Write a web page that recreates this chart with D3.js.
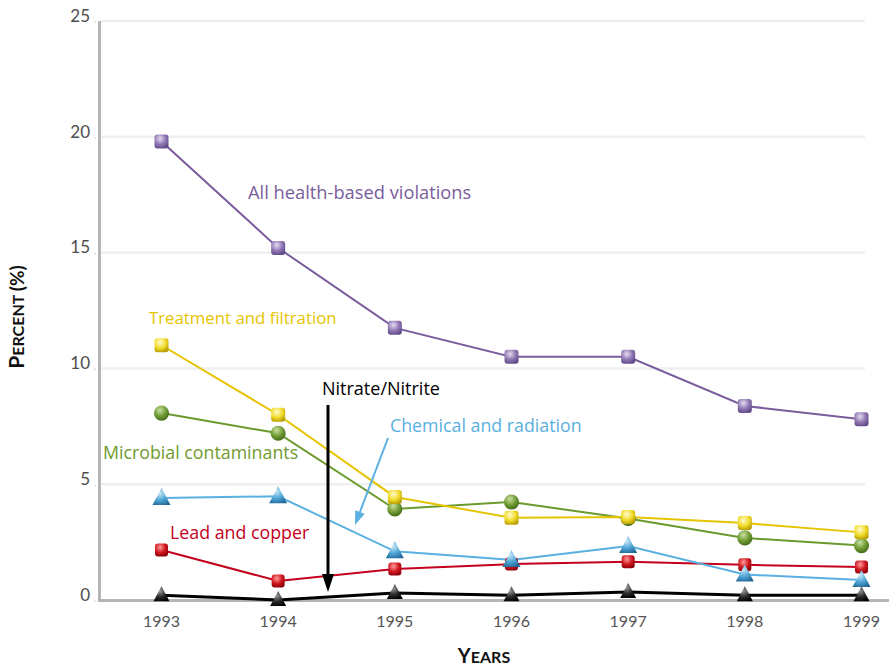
<!DOCTYPE html>
<html><head><meta charset="utf-8">
<script src="https://cdn.jsdelivr.net/npm/d3@7"></script>
<style>body{margin:0;background:#fff}svg{display:block}text{font-family:Lato,"Open Sans",sans-serif}</style>
</head><body><svg id="c" width="889" height="670"></svg>
<script>
const years = ["1993","1994","1995","1996","1997","1998","1999"];
const yTicks = [0,5,10,15,20,25];
const allViolations = [19.8,15.2,11.75,10.5,10.5,8.38,7.8];
const treatment = [11.0,8.0,4.45,3.55,3.58,3.32,2.92];
const microbial = [8.07,7.2,3.93,4.23,3.52,2.68,2.35];
const chemical = [4.4,4.48,2.1,1.73,2.33,1.1,0.86];
const lead = [2.16,0.82,1.34,1.55,1.65,1.52,1.42];
const nitrate = [0.2,0.0,0.3,0.2,0.35,0.2,0.2];

const svg = d3.select("#c");
const x = d3.scalePoint().domain(years).range([161.5,861.5]);
const y = d3.scaleLinear().domain([0,25]).range([600,21]);

const defs = svg.append("defs");
function grad(id, light, mid, dark){
  const g = defs.append("radialGradient").attr("id",id).attr("cx","40%").attr("cy","30%").attr("r","75%");
  g.append("stop").attr("offset","0%").attr("stop-color",light);
  g.append("stop").attr("offset","55%").attr("stop-color",mid);
  g.append("stop").attr("offset","100%").attr("stop-color",dark);
}
grad("gP","#e4dcef","#8f76b3","#5e4785");
grad("gY","#fffbd0","#f2dc2a","#b49a00");
grad("gG","#c9e0a0","#6f9a33","#3f6416");
grad("gB","#cde9f8","#4ea6d6","#24699a");
grad("gR","#ff9a9a","#d0161f","#8a000a");
grad("gK","#9a9a9a","#2a2a2a","#000");

// grid
svg.append("g").selectAll("line").data(yTicks.filter(d=>d>0)).join("line")
  .attr("x1",101).attr("x2",865).attr("y1",d=>y(d)).attr("y2",d=>y(d))
  .attr("stroke","#efefef").attr("stroke-width",2.5);

// axes
svg.append("line").attr("x1",99.5).attr("x2",99.5).attr("y1",21).attr("y2",601).attr("stroke","#b5b5b5").attr("stroke-width",3);
svg.append("line").attr("x1",98).attr("x2",889).attr("y1",600.5).attr("y2",600.5).attr("stroke","#b5b5b5").attr("stroke-width",3);

// y tick labels
svg.append("g").selectAll("text").data(yTicks).join("text")
  .attr("x",90).attr("y",d=>y(d)).attr("dy","0.05em").attr("text-anchor","end")
  .attr("font-size",17).attr("fill","#4d4d4d").text(d=>d);
svg.append("g").selectAll("circle").data(yTicks).join("circle")
  .attr("cx",95).attr("cy",d=>y(d)+1).attr("r",0.8).attr("fill","#ccc");
// x tick labels
svg.append("g").selectAll("text").data(years).join("text")
  .attr("x",d=>x(d)).attr("y",627).attr("text-anchor","middle")
  .attr("font-size",16).attr("fill","#555").text(d=>d);

// axis titles
const yt = svg.append("text").attr("transform","translate(24,317) rotate(-90)").attr("text-anchor","middle")
  .attr("font-weight","bold").attr("fill","#111");
yt.append("tspan").attr("font-size",21).text("P");
yt.append("tspan").attr("font-size",16).text("ERCENT ");
yt.append("tspan").attr("font-size",19).text("(%)");
const xt = svg.append("text").attr("x",484).attr("y",663).attr("text-anchor","middle").attr("font-weight","bold").attr("fill","#111");
xt.append("tspan").attr("font-size",20).text("Y");
xt.append("tspan").attr("font-size",16).text("EARS");

const series = [
  {vals:nitrate, color:"#000", w:3, shape:"tri", g:"gK", s:14},
  {vals:lead, color:"#c4001c", w:2, shape:"sq", g:"gR", s:13},
  {vals:chemical, color:"#5ab0e0", w:2, shape:"tri", g:"gB", s:16},
  {vals:microbial, color:"#6a9a2c", w:2, shape:"dia", g:"gG", s:15},
  {vals:treatment, color:"#e6c400", w:2, shape:"sq", g:"gY", s:14},
  {vals:allViolations, color:"#7a5c9c", w:2, shape:"sq", g:"gP", s:14}
];
const line = d3.line().x((d,i)=>x(years[i])).y(d=>y(d));
series.forEach(s=>{
  svg.append("path").attr("d",line(s.vals)).attr("fill","none").attr("stroke",s.color).attr("stroke-width",s.w);
});
series.forEach(s=>{
  const g = svg.append("g");
  s.vals.forEach((v,i)=>{
    const cx = x(years[i]), cy = y(v), h = s.s/2;
    if(s.shape==="sq"){
      g.append("rect").attr("x",cx-h).attr("y",cy-h).attr("width",s.s).attr("height",s.s).attr("rx",3)
        .attr("fill",`url(#${s.g})`);
    } else if(s.shape==="tri"){
      g.append("path").attr("d",`M${cx},${cy-h-2}L${cx+h+1},${cy+h-1}L${cx-h-1},${cy+h-1}Z`)
        .attr("fill",`url(#${s.g})`).attr("stroke-linejoin","round");
    } else {
      g.append("path").attr("d",d3.symbol(d3.symbolCircle, s.s*s.s*0.8)()).attr("transform",`translate(${cx},${cy})`)
        .attr("fill",`url(#${s.g})`);
    }
  });
});

// labels
const labels = [
  {t:"All health-based violations", x:248, y:199, c:"#7a5c9c", fs:18.3},
  {t:"Treatment and filtration", x:149, y:324, c:"#e6c400", fs:16.8},
  {t:"Microbial contaminants", x:103, y:459, c:"#6f9a30", fs:17.8},
  {t:"Lead and copper", x:170, y:539, c:"#c4001c", fs:17.8},
  {t:"Nitrate/Nitrite", x:322, y:395, c:"#000", fs:18},
  {t:"Chemical and radiation", x:390, y:432, c:"#5ab0e0", fs:17.8}
];
svg.append("g").selectAll("text").data(labels).join("text")
  .attr("x",d=>d.x).attr("y",d=>d.y).attr("fill",d=>d.c).attr("font-size",d=>d.fs)
  .style("font-family","'Open Sans',sans-serif").text(d=>d.t);

// arrows
function arrow(x1,y1,x2,y2,color,w,hl,hw){
  const a = Math.atan2(y2-y1,x2-x1);
  const bx = x2 - hl*Math.cos(a), by = y2 - hl*Math.sin(a);
  svg.append("line").attr("x1",x1).attr("y1",y1).attr("x2",bx).attr("y2",by).attr("stroke",color).attr("stroke-width",w);
  const px = -Math.sin(a)*hw/2, py = Math.cos(a)*hw/2;
  svg.append("path").attr("d",`M${x2},${y2}L${bx+px},${by+py}L${bx-px},${by-py}Z`).attr("fill",color);
}
arrow(328,405,328,592,"#000",3,18,12);
arrow(388,438,355,525,"#5ab0e0",2,14,10);
</script></body></html>
